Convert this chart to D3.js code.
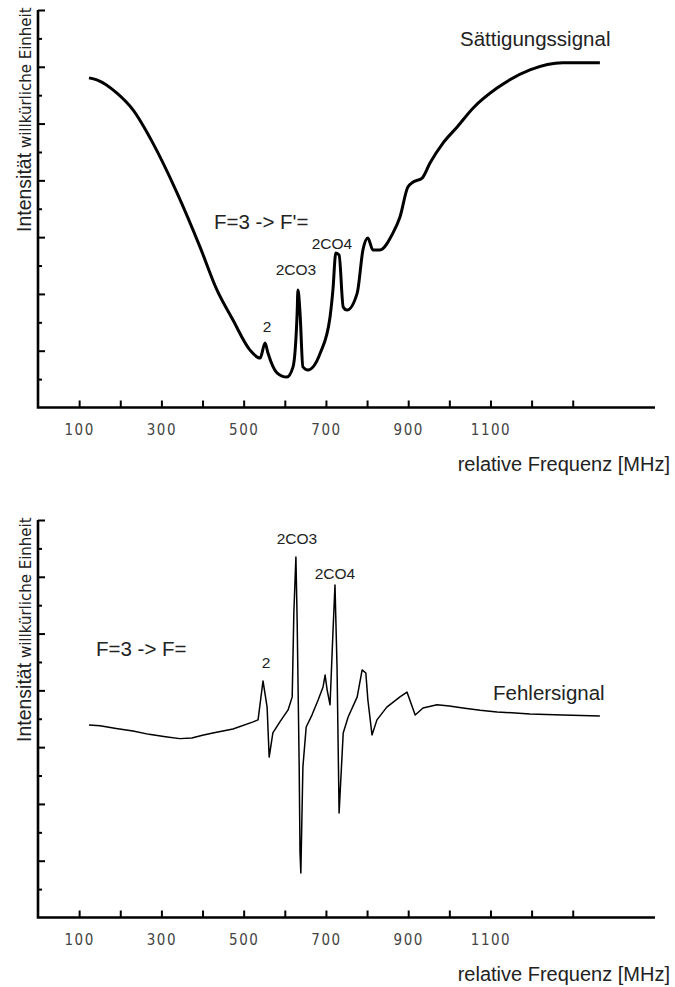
<!DOCTYPE html>
<html lang="de">
<head>
<meta charset="UTF-8">
<script src="https://cdnjs.cloudflare.com/ajax/libs/d3/7.8.5/d3.min.js"></script>
<style>
body{
	margin: 0;
	background-color: white;
	font-family: "Liberation Sans", Arial, sans-serif;
}
.ticklabel text{
	font-family: "Liberation Sans Narrow", "DejaVu Sans Condensed", sans-serif;
	font-size: 15px;
	letter-spacing: 1.5px;
	fill: #444;
}
</style>
</head>
<body>
<svg width="675" height="987"></svg>
<script>
// relative Frequenz [MHz] und Intensitaet (willkuerliche Einheit)
const saettFreq = [124, 143, 192, 231, 279, 338, 394, 435, 474, 515, 540, 552, 559, 581, 605, 620, 630, 632, 637, 644, 656, 686, 710, 717, 724, 732, 742, 751, 776, 790, 802, 814, 831, 863, 880, 899, 912, 934, 953, 985, 1019, 1058, 1116, 1196, 1276, 1366];
const saettWert = [11.61, 11.54, 11.07, 10.48, 9.32, 7.56, 5.65, 4.14, 3.08, 2.03, 1.74, 2.27, 1.92, 1.22, 1.07, 1.43, 3.33, 4.14, 3.33, 1.43, 1.32, 1.91, 3.19, 4.14, 5.44, 5.37, 3.54, 3.43, 4.03, 5.55, 5.97, 5.55, 5.55, 6.15, 6.71, 7.76, 7.94, 8.08, 8.61, 9.32, 9.88, 10.55, 11.25, 11.89, 12.14, 12.14];

const fehlerFreq = [124, 151, 190, 231, 270, 314, 345, 374, 400, 425, 474, 523, 535, 547, 557, 562, 571, 588, 608, 618, 622, 627, 630, 635, 637, 639, 644, 652, 666, 681, 693, 698, 703, 710, 717, 722, 727, 732, 742, 754, 776, 788, 797, 802, 812, 824, 848, 880, 897, 917, 936, 970, 1000, 1033, 1075, 1116, 1196, 1276, 1366];
const fehlerWert = [6.78, 6.75, 6.66, 6.57, 6.45, 6.36, 6.30, 6.32, 6.42, 6.50, 6.64, 6.89, 6.96, 8.33, 7.41, 5.65, 6.50, 6.89, 7.31, 7.77, 10.73, 12.70, 10.48, 5.30, 2.27, 1.57, 5.30, 6.71, 7.13, 7.66, 8.12, 8.54, 8.01, 7.49, 10.02, 11.71, 8.82, 3.68, 6.50, 7.06, 7.77, 8.72, 8.61, 7.66, 6.43, 6.96, 7.41, 7.77, 7.94, 7.13, 7.38, 7.49, 7.45, 7.38, 7.30, 7.24, 7.17, 7.13, 7.10];

const xTicks = [100, 200, 300, 400, 500, 600, 700, 800, 900, 1000, 1100, 1200, 1300];
const xLabels = [100, 300, 500, 700, 900, 1100];
const yMajor = [2, 4, 6, 8, 10, 12, 14];
const yMinor = [1, 3, 5, 7, 9, 11, 13];

const svg = d3.select("svg");

const x = d3.scaleLinear().domain([0, 1500]).range([38, 655]);
const y = d3.scaleLinear().domain([0, 14]).range([407.5, 10]);

function panel(dy, freq, wert, strokeW, curve, texts){
	let g = svg.append("g").attr("transform", "translate(0," + dy + ")");

	// y achse: lange und kurze striche
	g.append("g").attr("transform", "translate(38,0)")
		.call(d3.axisRight(y).tickValues(yMajor).tickSize(7).tickSizeOuter(0).tickFormat(""))
		.call(a => a.select(".domain").remove())
		.selectAll("line").attr("stroke", "black").attr("stroke-width", 2);
	g.append("g").attr("transform", "translate(38,0)")
		.call(d3.axisRight(y).tickValues(yMinor).tickSize(4).tickSizeOuter(0).tickFormat(""))
		.call(a => a.select(".domain").remove())
		.selectAll("line").attr("stroke", "black").attr("stroke-width", 2);

	// x achse
	g.append("g").attr("transform", "translate(0," + y(0) + ")")
		.call(d3.axisTop(x).tickValues(xTicks).tickSize(7).tickSizeOuter(0).tickFormat(""))
		.call(a => a.select(".domain").remove())
		.selectAll("line").attr("stroke", "black").attr("stroke-width", 2);
	g.append("g").attr("class", "ticklabel").attr("transform", "translate(0," + y(0) + ")")
		.call(d3.axisBottom(x).tickValues(xLabels).tickSize(0).tickPadding(17).tickFormat(d3.format("d")))
		.call(a => a.select(".domain").remove())
		.selectAll("text").attr("font-family", null).attr("font-size", null).attr("fill", null);

	g.append("path")
		.attr("d", "M38," + y(14) + "V" + y(0) + "H" + x(1500))
		.attr("fill", "none").attr("stroke", "black").attr("stroke-width", 2.6)
		.attr("stroke-linejoin", "miter");

	// kurve
	let pts = d3.zip(freq, wert);
	g.append("path")
		.datum(pts)
		.attr("fill", "none")
		.attr("stroke", "black")
		.attr("stroke-width", strokeW)
		.attr("stroke-linejoin", "round")
		.attr("d", d3.line().x(d => x(d[0])).y(d => y(d[1])).curve(curve));

	// achsenbeschriftung
	g.append("text")
		.attr("x", 670).attr("y", 471)
		.attr("text-anchor", "end")
		.style("font-size", "20px")
		.style("fill", "#222")
		.text("relative Frequenz [MHz]");

	let yl = g.append("text")
		.attr("transform", "translate(31,232) rotate(-90)")
		.style("fill", "#222");
	yl.append("tspan").style("font-size", "19.5px").text("Intensität");
	yl.append("tspan").style("font-size", "15px").attr("font-family", "DejaVu Sans").text(" willkürliche Einheit");

	texts.forEach(function(t){
		g.append("text")
			.attr("x", t[1]).attr("y", t[2])
			.attr("text-anchor", t[4])
			.style("font-size", t[3] + "px")
			.style("fill", "#222")
			.text(t[0]);
	});
}

panel(0, saettFreq, saettWert, 3, d3.curveMonotoneX, [
	["Sättigungssignal", 460, 46, 20.5, "start"],
	["F=3 -> F'=", 214, 229, 20.5, "start"],
	["2CO4", 332, 249, 15.5, "middle"],
	["2CO3", 296, 275, 15.5, "middle"],
	["2", 267, 332, 15.5, "middle"]
]);

panel(510, fehlerFreq, fehlerWert, 1.5, d3.curveLinear, [
	["Fehlersignal", 493, 190, 20.5, "start"],
	["F=3 -> F=", 96, 146, 20.5, "start"],
	["2CO3", 297, 34, 15.5, "middle"],
	["2CO4", 335, 69, 15.5, "middle"],
	["2", 266, 158, 15.5, "middle"]
]);
</script>
</body>
</html>
